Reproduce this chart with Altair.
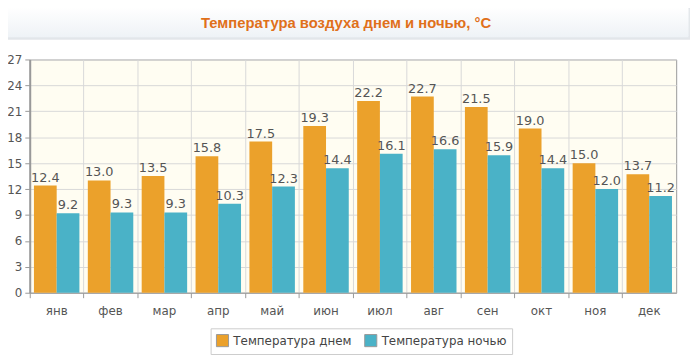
import altair as alt
import pandas as pd

months = ["янв", "фев", "мар", "апр", "май", "июн", "июл", "авг", "сен", "окт", "ноя", "дек"]
day = [12.4, 13.0, 13.5, 15.8, 17.5, 19.3, 22.2, 22.7, 21.5, 19.0, 15.0, 13.7]
night = [9.2, 9.3, 9.3, 10.3, 12.3, 14.4, 16.1, 16.6, 15.9, 14.4, 12.0, 11.2]
series = ["Температура днем", "Температура ночью"]
colors = ["#EBA12B", "#4AB2C7"]
title_text = "Температура воздуха днем и ночью, °C"

rows = []
for m, d, n in zip(months, day, night):
    rows.append({"month": m, "series": series[0], "value": d})
    rows.append({"month": m, "series": series[1], "value": n})
df = pd.DataFrame(rows)

W, H = 654, 236

x = alt.X("month:N", sort=months,
          scale=alt.Scale(paddingInner=0, paddingOuter=0),
          axis=alt.Axis(title=None, bandPosition=0,
                        labelAngle=0, labelPadding=8, tickSize=5,
                        tickColor="#999", domainColor="#999",
                        gridColor="#d9d9d9", grid=True,
                        labelFont="DejaVu Sans", labelFontSize=12,
                        labelColor="#555"))
xoff = alt.XOffset("series:N", sort=series,
                   scale=alt.Scale(paddingOuter=0.185, paddingInner=0))
y = alt.Y("value:Q",
          scale=alt.Scale(domain=[0, 27], nice=False),
          axis=alt.Axis(title=None, values=list(range(0, 28, 3)),
                        tickSize=5, tickColor="#999", domainColor="#999",
                        domainWidth=2, gridColor="#d9d9d9",
                        labelFont="DejaVu Sans", labelFontSize=12,
                        labelColor="#555", labelPadding=3))

base = alt.Chart(df)
bars = base.mark_bar().encode(
    x=x, xOffset=xoff, y=y,
    color=alt.Color("series:N", sort=series,
                    scale=alt.Scale(domain=series, range=colors),
                    legend=alt.Legend(title=None, orient="none",
                                      legendX=183, legendY=272,
                                      direction="horizontal",
                                      symbolType="square", symbolSize=150,
                                      symbolStrokeColor="#999",
                                      symbolStrokeWidth=1,
                                      strokeColor="#ccc", padding=5,
                                      labelFont="DejaVu Sans",
                                      labelFontSize=12, labelColor="#444",
                                      columnPadding=10)),
)
labels = base.mark_text(dy=-8, font="DejaVu Sans", fontSize=13,
                        color="#555").encode(
    x=x, xOffset=xoff, y=y,
    text=alt.Text("value:Q", format=".1f"),
)

hdr = alt.Chart(pd.DataFrame({"t": [title_text]}))
header_shadow = hdr.mark_rect(fill="#e3e6ea", clip=False).encode(
    x=alt.value(-27), x2=alt.value(668), y=alt.value(-52), y2=alt.value(-20))
header_box = hdr.mark_rect(
    clip=False, cornerRadius=2, stroke="#e4e8ec", strokeWidth=1,
    fill=alt.Gradient(gradient="linear",
                      stops=[alt.GradientStop(color="#ffffff", offset=0),
                             alt.GradientStop(color="#eef2f6", offset=1)],
                      x1=0, y1=0, x2=0, y2=1),
).encode(x=alt.value(-28), x2=alt.value(667), y=alt.value(-53), y2=alt.value(-22))
header_text = hdr.mark_text(
    font="Liberation Sans", fontSize=15, fontWeight="bold", color="#E0701A",
    baseline="middle", clip=False,
).encode(text="t:N", x=alt.value(320), y=alt.value(-37))

chart = alt.layer(header_shadow, header_box, header_text, bars, labels).properties(
    width=W, height=H,
    autosize=alt.AutoSizeParams(type="none"),
    padding={"left": 22, "top": 50, "right": 16, "bottom": 67},
    background="white",
    view=alt.ViewBackground(fill="#FFFDF2", stroke="#999", strokeWidth=1),
)

chart.save("out.html", embed_options={"renderer": "svg", "actions": False})
